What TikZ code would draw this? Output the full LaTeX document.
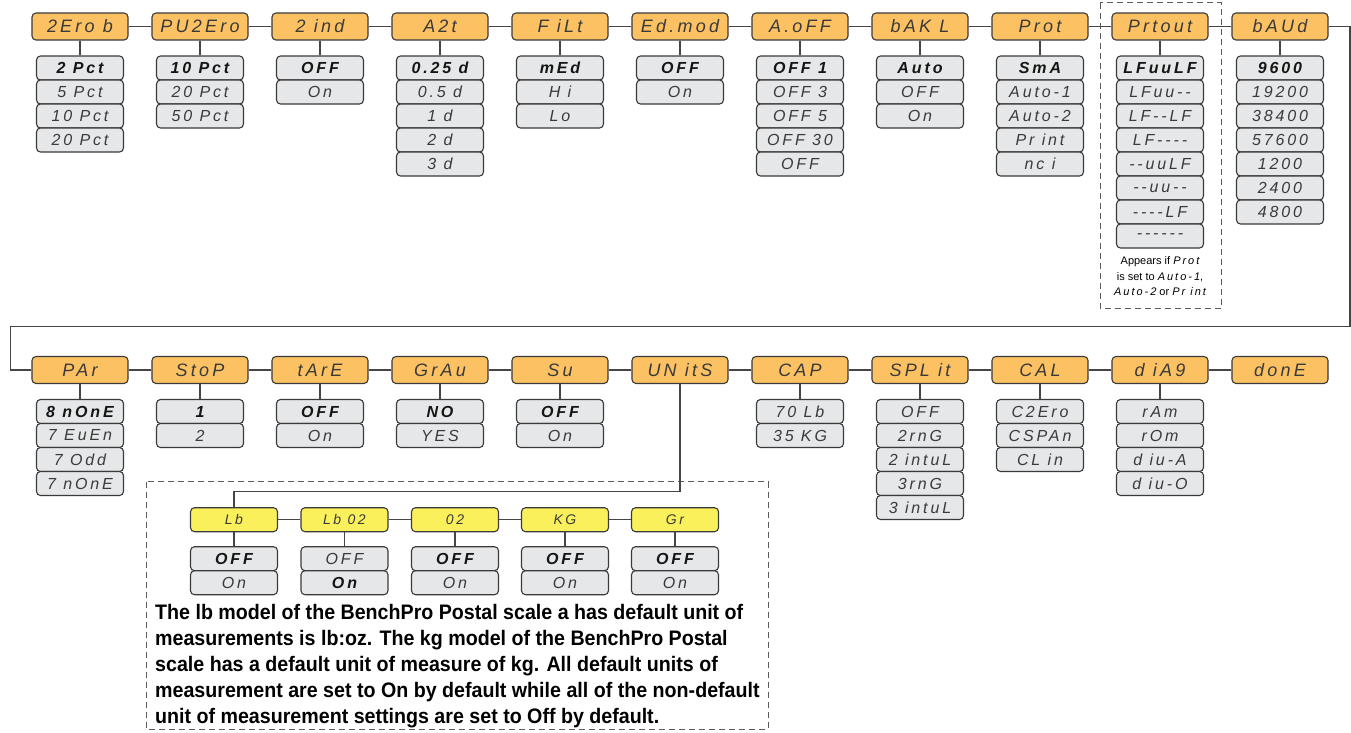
\documentclass[tikz,border=0pt]{standalone}
\usepackage{fontspec}
\setmainfont{Liberation Sans}
\newfontfamily\disp[Ligatures=TeXOff,LetterSpace=18]{Liberation Sans}
\newfontfamily\notefont[FakeStretch=0.935]{Liberation Sans}
\definecolor{orangec}{HTML}{FCC163}
\definecolor{grayc}{HTML}{E6E7E8}
\definecolor{yellowc}{HTML}{FAF05C}
\definecolor{linec}{HTML}{3A3A3A}
\definecolor{connc}{HTML}{454545}
\definecolor{textc}{HTML}{3A3A3A}
\definecolor{textb}{HTML}{151515}
\definecolor{dashc}{HTML}{5A5A5A}
\newcommand{\dflt}[1]{{\bfseries\color{textb}#1}}
\newcommand{\seg}[1]{{\disp\itshape #1}}
\tikzset{
  hdr/.style={draw=linec, line width=1.1pt, fill=orangec, rounded corners=4pt,
    minimum width=96pt, minimum height=27pt, inner sep=0pt, text=textc,
    font=\disp\itshape\fontsize{18}{18}\selectfont},
  opt/.style={draw=linec, line width=1.1pt, fill=grayc, rounded corners=4pt,
    minimum width=87pt, minimum height=24pt, inner sep=0pt, text=textc,
    font=\disp\itshape\fontsize{16}{16}\selectfont},
  unit/.style={hdr, fill=yellowc, minimum width=87pt, minimum height=24pt,
    font=\disp\itshape\fontsize{14}{14}\selectfont},
  conn/.style={draw=connc, line width=1.1pt},
  frame/.style={draw=dashc, line width=1pt, dash pattern=on 6pt off 4pt},
  pline/.style={anchor=base west, inner sep=0pt, text=black,
    font=\notefont\bfseries\fontsize{21}{21}\selectfont},
  smallnote/.style={align=center, inner sep=0pt, text=black,
    font=\fontsize{11}{15.5}\selectfont},
}
% #1 name, #2 x, #3 header y, #4 header text, #5 option list
\newcommand{\menu}[5]{%
  \node[hdr] (#1) at (#2,#3) {#4};
  \foreach \tx [count=\i] in {#5} {\node[opt] (#1-\i) at (#2,{#3+17.5+24*\i}) {\tx};}
  \draw[conn] (#1) -- (#1-1);
}
\newcommand{\umenu}[5]{%
  \node[unit] (#1) at (#2,#3) {#4};
  \foreach \tx [count=\i] in {#5} {\node[opt] (#1-\i) at (#2,{#3+15+24*\i}) {\tx};}
  \draw[conn] (#1) -- (#1-1);
}
\begin{document}
\begin{tikzpicture}[x=1pt,y=-1pt]
\useasboundingbox (0,0) rectangle (1351,732);
\fill[white] (0,0) rectangle (1351,732);

% ---------- row 1 ----------
\menu{zerob}{80}{26.5}{2Ero b}{\dflt{2 Pct}, 5 Pct, 10 Pct, 20 Pct}
\menu{puzero}{200}{26.5}{PU2Ero}{\dflt{10 Pct}, 20 Pct, 50 Pct}
\menu{zind}{320}{26.5}{2 ind}{\dflt{OFF}, On}
\menu{azt}{440}{26.5}{A2t}{\dflt{0.25 d}, 0.5 d, 1 d, 2 d, 3 d}
\menu{filt}{560}{26.5}{F iLt}{\dflt{mEd}, H i, Lo}
\menu{edmod}{680}{26.5}{Ed.mod}{\dflt{OFF}, On}
\menu{aoff}{800}{26.5}{A.oFF}{\dflt{OFF 1}, OFF 3, OFF 5, OFF 30, OFF}
\menu{bakl}{920}{26.5}{bAK L}{\dflt{Auto}, OFF, On}
\menu{prot}{1040}{26.5}{Prot}{\dflt{SmA}, Auto-1, Auto-2, Pr int, nc i}
\menu{prtout}{1160}{26.5}{Prtout}{\dflt{LFuuLF}, LFuu--, LF--LF, LF----, --uuLF, --uu--, ----LF, ------}
\menu{baud}{1280}{26.5}{bAUd}{\dflt{9600}, 19200, 38400, 57600, 1200, 2400, 4800}

\draw[conn] (zerob) -- (puzero);
\draw[conn] (puzero) -- (zind);
\draw[conn] (zind) -- (azt);
\draw[conn] (azt) -- (filt);
\draw[conn] (filt) -- (edmod);
\draw[conn] (edmod) -- (aoff);
\draw[conn] (aoff) -- (bakl);
\draw[conn] (bakl) -- (prot);
\draw[conn] (prot) -- (prtout);
\draw[conn] (prtout) -- (baud);

\draw[frame] (1100,2.5) rectangle (1221,308);
\node[smallnote] (pnote) at (1160,276.5)
  {Appears if \seg{Prot}\\ is set to \seg{Auto-1},\\ \seg{Auto-2} or \seg{Pr int}};

% ---------- row 2 ----------
\menu{par}{80}{370}{PAr}{\dflt{8 nOnE}, 7 EuEn, 7 Odd, 7 nOnE}
\menu{stop}{200}{370}{StoP}{\dflt{1}, 2}
\menu{tare}{320}{370}{tArE}{\dflt{OFF}, On}
\menu{grau}{440}{370}{GrAu}{\dflt{NO}, YES}
\menu{su}{560}{370}{Su}{\dflt{OFF}, On}
\node[hdr] (units) at (680,370) {UN itS};
\menu{cap}{800}{370}{CAP}{70 Lb, 35 KG}
\menu{split}{920}{370}{SPL it}{OFF, 2rnG, 2 intuL, 3rnG, 3 intuL}
\menu{cal}{1040}{370}{CAL}{C2Ero, CSPAn, CL in}
\menu{diag}{1160}{370}{d iA9}{rAm, rOm, d iu-A, d iu-O}
\node[hdr] (done) at (1280,370) {donE};

\draw[conn] (par) -- (stop);
\draw[conn] (stop) -- (tare);
\draw[conn] (tare) -- (grau);
\draw[conn] (grau) -- (su);
\draw[conn] (su) -- (units);
\draw[conn] (units) -- (cap);
\draw[conn] (cap) -- (split);
\draw[conn] (split) -- (cal);
\draw[conn] (cal) -- (diag);
\draw[conn] (diag) -- (done);

% loop from row 1 to row 2
\coordinate (loopR) at (1350,326.7);
\coordinate (loopL) at (10.7,326.7);
\draw[conn] (baud.east) -| (loopR) -- (loopL) |- (par.west);

% ---------- units group ----------
\draw[frame] (146.7,481.7) rectangle (768,729);
\umenu{lb}{234}{519.7}{Lb}{\dflt{OFF}, On}
\umenu{lboz}{344.5}{519.7}{Lb 02}{OFF, \dflt{On}}
\umenu{oz}{455}{519.7}{02}{\dflt{OFF}, On}
\umenu{kg}{565}{519.7}{KG}{\dflt{OFF}, On}
\umenu{gr}{675}{519.7}{Gr}{\dflt{OFF}, On}
\draw[conn] (lb) -- (lboz);
\draw[conn] (lboz) -- (oz);
\draw[conn] (oz) -- (kg);
\draw[conn] (kg) -- (gr);
\coordinate (ubend) at (680,491.7);
\draw[conn] (units.south) -- (ubend) -| (lb.north);

\node[pline] (p1) at (155,619) {The lb model of the BenchPro Postal scale a has default unit of};
\node[pline] (p2) at (155,645) {measurements is lb:oz. The kg model of the BenchPro Postal};
\node[pline] (p3) at (155,671) {scale has a default unit of measure of kg. All default units of};
\node[pline] (p4) at (155,697) {measurement are set to On by default while all of the non-default};
\node[pline] (p5) at (155,723) {unit of measurement settings are set to Off by default.};
\end{tikzpicture}
\end{document}
